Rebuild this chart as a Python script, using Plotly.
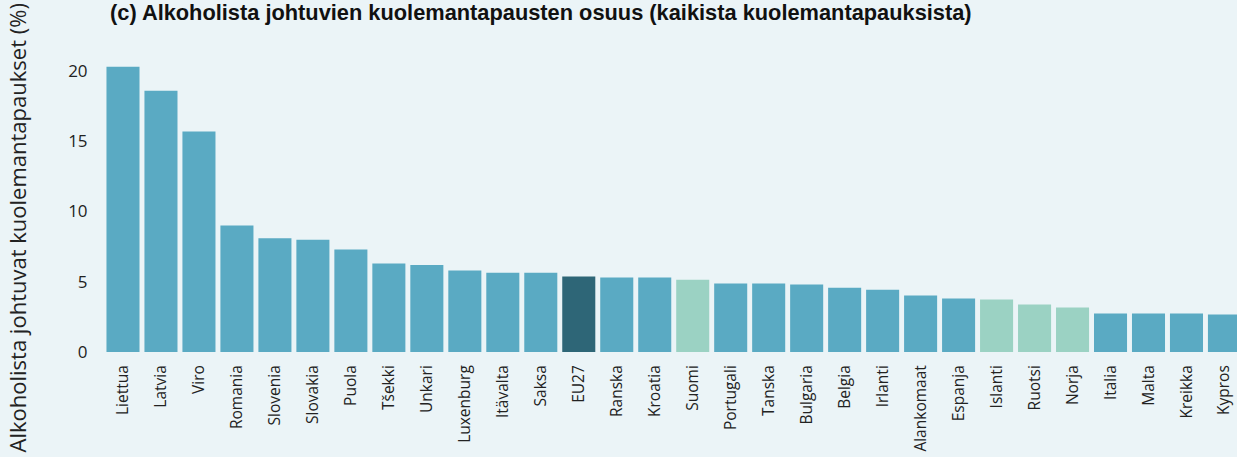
import plotly.graph_objects as go

countries = ["Liettua", "Latvia", "Viro", "Romania", "Slovenia", "Slovakia", "Puola", "Tšekki",
             "Unkari", "Luxenburg", "Itävalta", "Saksa", "EU27", "Ranska", "Kroatia", "Suomi",
             "Portugali", "Tanska", "Bulgaria", "Belgia", "Irlanti", "Alankomaat", "Espanja",
             "Islanti", "Ruotsi", "Norja", "Italia", "Malta", "Kreikka", "Kypros"]
values = [20.3, 18.6, 15.7, 9.0, 8.1, 8.0, 7.3, 6.3,
          6.2, 5.8, 5.65, 5.65, 5.37, 5.3, 5.3, 5.15,
          4.87, 4.87, 4.8, 4.58, 4.44, 4.02, 3.8,
          3.73, 3.38, 3.16, 2.74, 2.74, 2.74, 2.67]
groups = ["eu"] * 12 + ["avg"] + ["eu"] * 2 + ["nordic"] + ["eu"] * 7 + ["nordic"] * 3 + ["eu"] * 4
y_ticks = [0, 5, 10, 15, 20]

title = "(c) Alkoholista johtuvien kuolemantapausten osuus (kaikista kuolemantapauksista)"
y_title = "Alkoholista johtuvat kuolemantapaukset (%)"

palette = {"eu": "#5aaac3", "avg": "#2e6677", "nordic": "#9bd2c3"}
colors = [palette[g] for g in groups]

bg = "#ebf4f7"
fig = go.Figure(go.Bar(x=countries, y=values, marker=dict(color=colors, line=dict(width=0))))

fig.update_layout(
    width=1237, height=457,
    paper_bgcolor=bg, plot_bgcolor=bg,
    margin=dict(l=104, r=0, t=50, b=104.5),
    bargap=0.13,
    showlegend=False,
    font=dict(family="Open Sans, sans-serif", color="#222222"),
    xaxis=dict(range=[-0.5, 29.33], tickangle=-90, tickfont=dict(size=15.5, color="#222222"),
               showgrid=False, zeroline=False, showline=False, ticks="outside", ticklen=6,
               tickcolor="rgba(0,0,0,0)"),
    yaxis=dict(range=[0, 21.5], tickvals=y_ticks, tickfont=dict(size=17, color="#222222"),
               showgrid=False, zeroline=False, showline=False, ticks="outside", ticklen=12,
               tickcolor="rgba(0,0,0,0)"),
    annotations=[
        dict(text="<b>" + title + "</b>", xref="paper", yref="paper", x=0.0035, y=1.172,
             xanchor="left", yanchor="top", showarrow=False,
             font=dict(family="Liberation Sans, Arial, sans-serif", size=21.8, color="#111111")),
        dict(text=y_title, xref="paper", yref="paper", x=-0.0915, y=0.41,
             xanchor="left", yanchor="middle", textangle=-90, showarrow=False,
             font=dict(family="Open Sans, sans-serif", size=22, color="#222222")),
    ],
)

fig.write_html("out.html", config={"displayModeBar": False},
               post_script="document.body.style.margin='0';document.body.style.padding='0';")
